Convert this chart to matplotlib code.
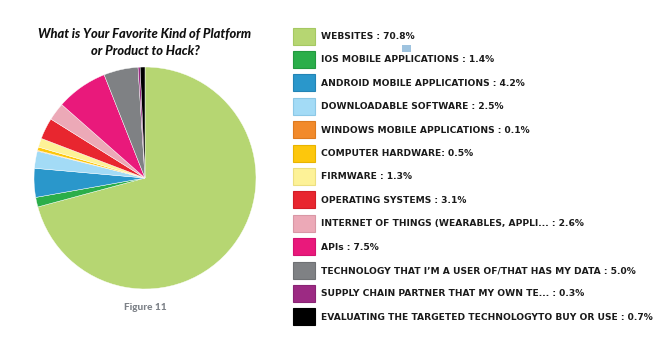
import matplotlib
matplotlib.use("Agg")
import matplotlib.pyplot as plt
from matplotlib.patches import Rectangle

# Survey answers: favourite kind of platform or product to hack
labels = [
    "WEBSITES : 70.8%",
    "IOS MOBILE APPLICATIONS : 1.4%",
    "ANDROID MOBILE APPLICATIONS : 4.2%",
    "DOWNLOADABLE SOFTWARE : 2.5%",
    "WINDOWS MOBILE APPLICATIONS : 0.1%",
    "COMPUTER HARDWARE: 0.5%",
    "FIRMWARE : 1.3%",
    "OPERATING SYSTEMS : 3.1%",
    "INTERNET OF THINGS (WEARABLES, APPLI... : 2.6%",
    "APIs : 7.5%",
    "TECHNOLOGY THAT I\u2019M A USER OF/THAT HAS MY DATA : 5.0%",
    "SUPPLY CHAIN PARTNER THAT MY OWN TE... : 0.3%",
    "EVALUATING THE TARGETED TECHNOLOGYTO BUY OR USE : 0.7%",
]
values = [70.8, 1.4, 4.2, 2.5, 0.1, 0.5, 1.3, 3.1, 2.6, 7.5, 5.0, 0.3, 0.7]
colors = [
    "#b6d672", "#2bae4a", "#2a97cb", "#a3dbf6", "#f28a2b", "#fdc70c",
    "#fdf297", "#e8262f", "#eca9b7", "#e9197b", "#7f8184", "#9c2a83",
    "#000000",
]
edge_colors = [
    "#a5c862", "#23993f", "#2384b5", "#8cc8e6", "#dd7a20", "#e8b400",
    "#ecdf80", "#d21e27", "#d997a5", "#d31370", "#6f7174", "#8a2474",
    "#000000",
]

W, H, DPI = 671, 339, 100
fig = plt.figure(figsize=(W / DPI, H / DPI), dpi=DPI, facecolor="white")

# Pie, centred at (145, 178) px with radius 111 px
cx, cy, r = 145, 178, 111
ax = fig.add_axes([(cx - r) / W, (H - cy - r) / H, 2 * r / W, 2 * r / H])
ax.pie(values, colors=colors, startangle=90, counterclock=False,
       wedgeprops=dict(edgecolor="#ffffff", linewidth=0.3))
ax.set_xlim(-1.0, 1.0)
ax.set_ylim(-1.0, 1.0)
ax.set_aspect("equal")
ax.axis("off")

# Overlay in pixel coordinates for text and legend
ov = fig.add_axes([0, 0, 1, 1])
ov.set_xlim(0, W)
ov.set_ylim(H, 0)
ov.axis("off")

ov.text(145, 34, "What is Your Favorite Kind of Platform", ha="center", va="center",
        fontsize=9.3, fontweight="black", fontstyle="italic", family="Lato", color="#111111")
ov.text(145, 51, "or Product to Hack?", ha="center", va="center",
        fontsize=9.3, fontweight="black", fontstyle="italic", family="Lato", color="#111111")
ov.text(145, 307, "Figure 11", ha="center", va="center",
        fontsize=7.3, fontweight="black", family="Lato", color="#7d8288")

# Legend
y0, dy = 36, 23.4
for i, (lab, c, ec) in enumerate(zip(labels, colors, edge_colors)):
    y = y0 + i * dy
    ov.add_patch(Rectangle((293, y - 8.5), 22, 17, facecolor=c, edgecolor=ec, linewidth=0.8))
    ov.text(321, y + 0.5, lab, ha="left", va="center", fontsize=6.6,
            fontweight="bold", family="DejaVu Sans", color="#1a1a1a")

# small marker next to the first entry
ov.add_patch(Rectangle((402, 45), 9, 7, facecolor="#9ec3df", edgecolor="none"))

fig.savefig("out.png", dpi=DPI, facecolor="white")
